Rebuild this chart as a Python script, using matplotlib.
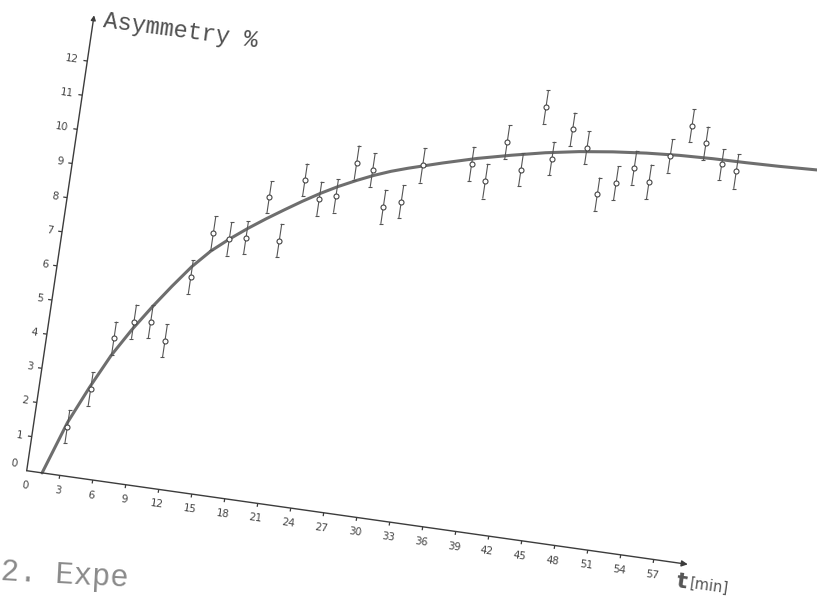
import matplotlib
matplotlib.use('Agg')
import matplotlib.pyplot as plt
import numpy as np
from matplotlib import font_manager
from matplotlib.collections import LineCollection
from matplotlib.transforms import Affine2D, ScaledTranslation

# measured points (t in min, asymmetry in %) with their error bars
t_obs = [3.04, 4.62, 6.03, 7.59, 9.08, 10.60, 12.06, 13.49, 14.99, 16.46,
         18.00, 19.46, 20.95, 22.47, 23.92, 25.33, 26.85, 28.28, 29.81, 31.24,
         35.58, 37.02, 38.46, 40.05, 41.45, 42.66, 44.12, 45.64, 47.17, 48.69,
         50.11, 51.61, 53.16, 54.70, 56.17, 57.85, 59.24]
asym_obs = [1.43, 2.60, 4.15, 4.71, 4.78, 4.29, 6.22, 7.57, 7.47, 7.58,
            8.83, 7.63, 9.47, 8.99, 9.14, 10.18, 10.03, 9.02, 9.24, 10.37,
            10.61, 10.17, 11.38, 10.64, 12.54, 11.09, 12.01, 11.54, 10.25, 10.64,
            11.16, 10.81, 11.64, 12.60, 12.15, 11.61, 11.47]
asym_err = [0.49, 0.49, 0.49, 0.50, 0.49, 0.49, 0.49, 0.50, 0.49, 0.48,
            0.47, 0.49, 0.48, 0.50, 0.49, 0.50, 0.49, 0.50, 0.49, 0.51,
            0.50, 0.51, 0.50, 0.48, 0.49, 0.49, 0.49, 0.48, 0.49, 0.50,
            0.50, 0.51, 0.49, 0.48, 0.49, 0.45, 0.51]

# fitted curve
t_fit = [1.4, 3, 4.5, 6, 7.5, 9, 10.5, 12, 13.5, 15, 16.5, 18, 19.5, 21, 22.5,
         24, 25.5, 27, 28.5, 30, 33, 36, 39, 42, 45, 48, 51, 54, 57, 60, 63, 66.4]
asym_fit = [0.0, 1.55, 2.65, 3.65, 4.47, 5.2, 5.88, 6.52, 7.05, 7.47, 7.85,
            8.2, 8.53, 8.85, 9.15, 9.42, 9.66, 9.88, 10.07, 10.23, 10.52,
            10.79, 11.02, 11.23, 11.40, 11.53, 11.63, 11.70, 11.74, 11.76,
            11.79, 11.84]

x_ticks = [0, 3, 6, 9, 12, 15, 18, 21, 24, 27, 30, 33, 36, 39, 42, 45, 48, 51, 54, 57]
y_ticks = [0, 1, 2, 3, 4, 5, 6, 7, 8, 9, 10, 11, 12]

available = {f.name for f in font_manager.fontManager.ttflist}
tick_font = 'Liberation Sans Narrow' if 'Liberation Sans Narrow' in available else 'DejaVu Sans'

fig = plt.figure(figsize=(8.17, 5.97), dpi=100)
ax = fig.add_axes([0, 0, 1, 1])
ax.set_autoscale_on(False)
ax.set_xlim(0, 817)
ax.set_ylim(597, 0)
ax.axis('off')

# the scanned page is turned by about 8 degrees: map (t, A) onto the page
frame = Affine2D(np.array([[11.0, 5.05, 26.7],
                           [1.558, -34.14, 470.7],
                           [0.0, 0.0, 1.0]])) + ax.transData


def shifted(dx, dy):
    return frame + ScaledTranslation(dx / 100, -dy / 100, fig.dpi_scale_trans)


ink = '#3c3c3c'
rot = -8

# axes with arrows
ax.annotate('', xy=(60.1, 0), xytext=(0, 0), xycoords=frame, textcoords=frame,
            arrowprops=dict(arrowstyle='-|>', lw=1.0, color=ink,
                            mutation_scale=9, shrinkA=0, shrinkB=0))
ax.annotate('', xy=(0, 13.34), xytext=(0, 0), xycoords=frame, textcoords=frame,
            arrowprops=dict(arrowstyle='-|>', lw=1.0, color=ink,
                            mutation_scale=7, shrinkA=0, shrinkB=0))

xt_segs = [[(t, 0), (t, -0.1)] for t in x_ticks[1:]]
yt_segs = [[(0, a), (-0.35, a)] for a in y_ticks[1:]]
ax.add_collection(LineCollection(xt_segs + yt_segs, colors=ink, linewidths=0.9,
                                 transform=frame))

for t in x_ticks:
    ax.text(t, 0, str(t), transform=shifted(-2, 15), rotation=rot,
            rotation_mode='anchor', ha='center', va='center',
            fontsize=7.5, family=tick_font, color='#444444')
for a in y_ticks:
    dy = -7 if a == 0 else -1
    ax.text(0, a, str(a), transform=shifted(-9, dy), rotation=rot,
            rotation_mode='anchor', ha='right', va='center',
            fontsize=7.5, family=tick_font, color='#444444')

ax.text(0, 13.34, 'Asymmetry %', transform=shifted(9, 12), rotation=-7.5,
        rotation_mode='anchor', ha='left', va='baseline', fontsize=17,
        family='Liberation Mono', color='#505050')
ax.text(60.1, 0, 't', transform=shifted(-6, 17), rotation=rot,
        rotation_mode='anchor', ha='center', va='center', fontsize=16,
        fontweight='bold', family='DejaVu Sans', color='#555555')
ax.text(60.1, 0, '[min]', transform=shifted(2, 19), rotation=rot,
        rotation_mode='anchor', ha='left', va='center', fontsize=10.5,
        family='DejaVu Sans', color='#555555')

# fitted curve
ax.plot(t_fit, asym_fit, transform=frame, color='#6e6e6e', lw=2.2,
        solid_capstyle='round', zorder=2)

# data with error bars
ax.errorbar(t_obs, asym_obs, yerr=asym_err, transform=frame, fmt='o',
            ms=3.6, mfc='white', mec='#444444', mew=0.8, ecolor='#555555',
            elinewidth=0.8, capsize=1.6, capthick=0.8, zorder=3)

# caption of the page, at the lower edge of the scan
ax.text(0, 580, '2. Expe', rotation=-3, rotation_mode='anchor',
        ha='left', va='baseline', fontsize=22, family='Liberation Mono',
        color='#8a8a8a')

fig.savefig('out.png', dpi=100)
